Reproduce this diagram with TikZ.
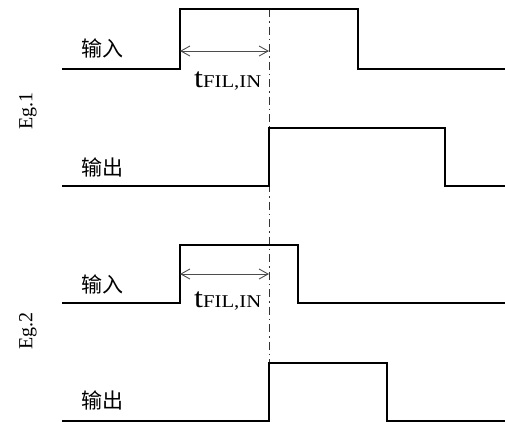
\documentclass[tikz,border=0pt]{standalone}
\usepackage{fontspec}
\setmainfont{Liberation Serif}
\newfontfamily\cjk{Noto Sans CJK SC}
\usetikzlibrary{arrows.meta}
\tikzset{
  sig/.style={line width=2pt, line join=miter},
  dim/.style={line width=0.9pt, draw=black!70, {Straight Barb[length=9pt,width=10pt]}-{Straight Barb[length=9pt,width=10pt]}},
  guide/.style={line width=1pt, draw=black!80, dash pattern=on 8pt off 4pt on 1.5pt off 4pt},
  lab/.style={font=\cjk\fontsize{21}{21}\selectfont, inner sep=0pt},
  eg/.style={font=\fontsize{20}{20}\selectfont, inner sep=0pt, rotate=90},
  tlab/.style={inner sep=0pt, anchor=base west, xscale=1.15}
}
\begin{document}
\begin{tikzpicture}[x=1pt,y=-1pt]
\useasboundingbox (0,0) rectangle (505,421);
% guide line
\coordinate (gtop) at (269,9);
\coordinate (gbot) at (269,421);
\draw[guide] (gtop) -- (gbot);
% Eg.1 input
\coordinate (a0) at (62,69);
\coordinate (a1) at (180,69);
\coordinate (a2) at (180,9);
\coordinate (a3) at (358,9);
\coordinate (a4) at (358,69);
\coordinate (a5) at (505,69);
\draw[sig] (a0) -- (a1) -- (a2) -- (a3) -- (a4) -- (a5);
% Eg.1 output
\coordinate (b0) at (62,186);
\coordinate (b1) at (269,186);
\coordinate (b2) at (269,128);
\coordinate (b3) at (445,128);
\coordinate (b4) at (445,186);
\coordinate (b5) at (505,186);
\draw[sig] (b0) -- (b1) -- (b2) -- (b3) -- (b4) -- (b5);
% Eg.2 input
\coordinate (c0) at (62,303);
\coordinate (c1) at (180,303);
\coordinate (c2) at (180,245);
\coordinate (c3) at (298,245);
\coordinate (c4) at (298,303);
\coordinate (c5) at (505,303);
\draw[sig] (c0) -- (c1) -- (c2) -- (c3) -- (c4) -- (c5);
% Eg.2 output
\coordinate (d0) at (62,421);
\coordinate (d1) at (269,421);
\coordinate (d2) at (269,363);
\coordinate (d3) at (387,363);
\coordinate (d4) at (387,421);
\coordinate (d5) at (505,421);
\draw[sig] (d0) -- (d1) -- (d2) -- (d3) -- (d4) -- (d5);
% dimension arrows
\coordinate (p1) at (180,51);
\coordinate (q1) at (269,51);
\draw[dim] (p1) -- (q1);
\coordinate (p2) at (180,274);
\coordinate (q2) at (269,274);
\draw[dim] (p2) -- (q2);
% t labels
\node[tlab] (t1) at (194,87) {\fontsize{28}{28}\selectfont t\fontsize{18}{18}\selectfont FIL,IN};
\node[tlab] (t2) at (194,307) {\fontsize{28}{28}\selectfont t\fontsize{18}{18}\selectfont FIL,IN};
% signal labels
\node[lab] (in1) at (102,48) {输入};
\node[lab] (out1) at (102,167) {输出};
\node[lab] (in2) at (102,284) {输入};
\node[lab] (out2) at (102,400) {输出};
% Eg labels
\node[eg] (eg1) at (28,111) {Eg.1};
\node[eg] (eg2) at (28,331) {Eg.2};
\end{tikzpicture}
\end{document}
